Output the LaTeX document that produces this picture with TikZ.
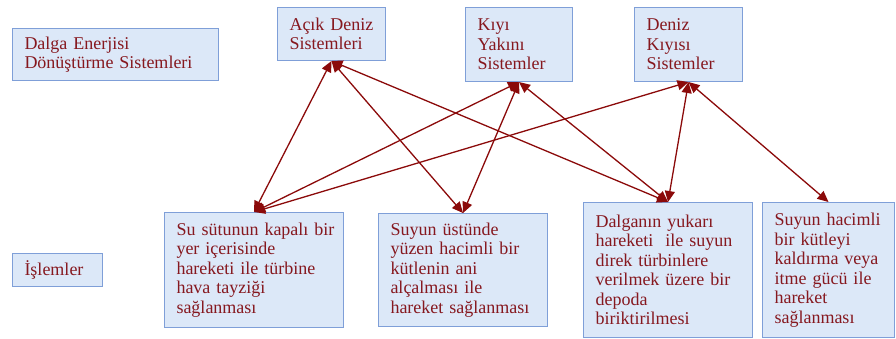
\documentclass[tikz,border=0pt]{standalone}
\usepackage{fontspec}
\setmainfont{Liberation Serif}
\usetikzlibrary{arrows.meta}
\definecolor{boxfill}{HTML}{DCE8F8}
\definecolor{boxline}{HTML}{7F9FD8}
\definecolor{txt}{HTML}{86181F}
\definecolor{arr}{HTML}{8B0A0A}
\tikzset{
  box/.style={draw=boxline, line width=1pt, fill=boxfill, anchor=north west,
    inner xsep=12pt, inner ysep=0pt, align=left, text=txt,
    font=\fontsize{18}{19.5}\selectfont},
  link/.style={draw=arr, line width=1.3pt,
    {Triangle[length=11pt,width=10pt]}-{Triangle[length=11pt,width=10pt]}}
}
\begin{document}
\begin{tikzpicture}[x=1pt,y=-1pt]
\useasboundingbox (0,0) rectangle (896,338);
\node[box, text width=182pt, minimum height=52pt] (dalga) at (12,28) {Dalga Enerjisi\\Dönüştürme Sistemleri};
\node[box, text width=84pt, minimum height=53pt] (acik) at (277,7) {\mbox{Açık Deniz}\\Sistemleri};
\node[box, text width=83pt, minimum height=74pt] (kiyi) at (465,7) {Kıyı\\Yakını\\Sistemler};
\node[box, text width=84pt, minimum height=74pt] (deniz) at (634,7) {Deniz\\Kıyısı\\Sistemler};
\node[box, text width=66pt, minimum height=33pt] (islem) at (12,253) {İşlemler};
\node[box, text width=155pt, minimum height=115pt] (p1) at (164,212) {\mbox{Su sütunun kapalı bir}\\yer içerisinde\\hareketi ile türbine\\hava tayziği\\sağlanması};
\node[box, text width=145pt, minimum height=113pt] (p2) at (378,213) {Suyun üstünde\\yüzen hacimli bir\\kütlenin ani\\alçalması ile\\\mbox{hareket sağlanması}};
\node[box, text width=145pt, minimum height=135pt] (p3) at (583,202) {Dalganın yukarı\\\mbox{hareketi~ ile suyun}\\direk türbinlere\\\mbox{verilmek üzere bir}\\depoda\\biriktirilmesi};
\node[box, text width=108pt, minimum height=135pt] (p4) at (762,202) {\mbox{Suyun hacimli}\\bir kütleyi\\\mbox{kaldırma veya}\\itme gücü ile\\hareket\\sağlanması};
\draw[link] (p1.north) -- (acik.south);
\draw[link] (p1.north) -- (kiyi.south);
\draw[link] (p1.north) -- (deniz.south);
\draw[link] (p2.north) -- (acik.south);
\draw[link] (p2.north) -- (kiyi.south);
\draw[link] (p3.north) -- (acik.south);
\draw[link] (p3.north) -- (kiyi.south);
\draw[link] (p3.north) -- (deniz.south);
\draw[link] (p4.north) -- (deniz.south);
\end{tikzpicture}
\end{document}
